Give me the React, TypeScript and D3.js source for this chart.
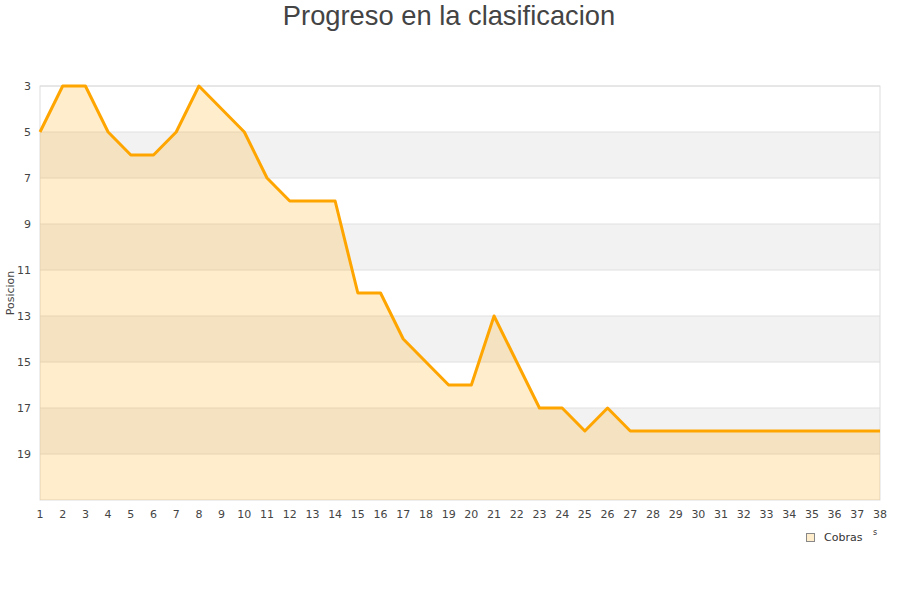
import * as d3 from 'd3';

const rounds = d3.range(1, 39);
const positions = [5, 3, 3, 5, 6, 6, 5, 3, 4, 5, 7, 8, 8, 8, 12, 12, 14, 15, 16, 16, 13, 15, 17, 17, 18, 17, 18, 18, 18, 18, 18, 18, 18, 18, 18, 18, 18, 18];
const yTicks = [3, 5, 7, 9, 11, 13, 15, 17, 19];
const teamName = 'Cobras';

export default function App() {
    const width = 900;
    const height = 600;
    const left = 40, right = 880, top = 86, bottom = 500;

    const x = d3.scaleLinear().domain([1, 38]).range([left, right]);
    const y = d3.scaleLinear().domain([3, 21]).range([top, bottom]);

    const pts: [number, number][] = rounds.map((r, i) => [r, positions[i]]);
    const line = d3.line<[number, number]>().x(d => x(d[0])).y(d => y(d[1]));
    const area = d3.area<[number, number]>().x(d => x(d[0])).y0(y(21)).y1(d => y(d[1]));

    const bands = [5, 9, 13, 17];
    const font = 'DejaVu Sans, Verdana, sans-serif';

    return (
        <svg width={width} height={height} style={{ position: 'absolute', left: 0, top: 0 }}>
            <rect width={width} height={height} fill="#fff" />
            <text x={449} y={25} textAnchor="middle" fontFamily="Liberation Sans, Arial, sans-serif" fontSize={27.3} fill="#444">
                Progreso en la clasificacion
            </text>

            {bands.map(b => (
                <rect key={b} x={left} y={y(b)} width={right - left} height={y(b + 2) - y(b)} fill="#f2f2f2" />
            ))}
            {yTicks.map(t => (
                <line key={t} x1={left} x2={right} y1={y(t)} y2={y(t)} stroke="#e0e0e0" />
            ))}
            <rect x={left} y={top} width={right - left} height={bottom - top} fill="none" stroke="#ddd" />

            <path d={area(pts)!} fill="rgba(255,165,0,0.2)" />
            <path d={line(pts)!} fill="none" stroke="#FFA500" strokeWidth={3} strokeLinejoin="round" />

            {yTicks.map(t => (
                <text key={t} x={31} y={y(t) + 4} textAnchor="end" fontFamily={font} fontSize={11} fill="#444">{t}</text>
            ))}
            {rounds.map(r => (
                <text key={r} x={x(r)} y={518} textAnchor="middle" fontFamily={font} fontSize={11} fill="#444">{r}</text>
            ))}
            <text transform="translate(14,293) rotate(-90)" textAnchor="middle" fontFamily={font} fontSize={11} fill="#444">Posicion</text>

            <rect x={806.5} y={533.5} width={8} height={8} fill="#FFEDCC" stroke="#888" />
            <text x={824} y={541} fontFamily={font} fontSize={11} fill="#333">{teamName}</text>
            <text x={873} y={535} fontFamily={font} fontSize={8} fill="#333">s</text>
        </svg>
    );
}
